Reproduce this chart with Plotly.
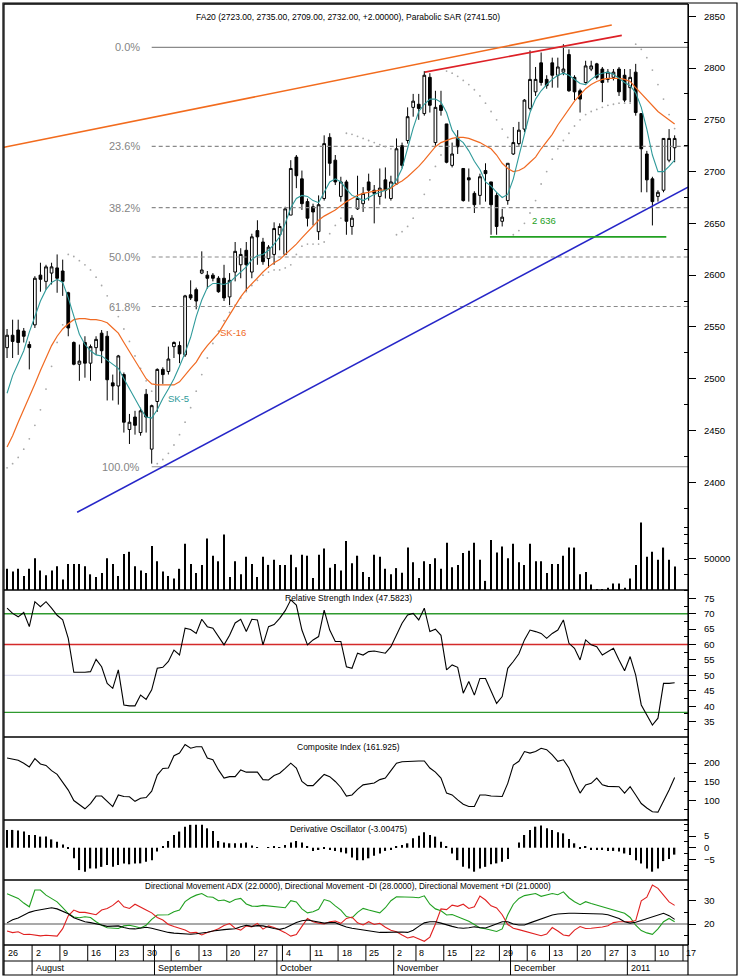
import plotly.graph_objects as go

FONT = "Liberation Sans, Arial, sans-serif"

# ---------------- date axis (trading-day index positions) ----------------
day_ticks = [-0.5, 4.5, 9.5, 14.5, 19.5, 24.5, 29.5, 34.5, 39.5, 44.5, 49.5, 54.5, 59.5,
             64.5, 69.5, 73.5, 78.5, 83.5, 88.5, 93.5, 97.5, 102.5, 107.5, 111.5, 116.5, 121.5]
day_labels = ["26", "2", "9", "16", "23", "30", "6", "13", "20", "27", "4", "11", "18",
              "25", "2", "8", "15", "22", "29", "6", "13", "20", "27", "3", "10", "17"]
month_ticks = [4.5, 26.5, 48.5, 69.5, 90.5, 111.5]
month_labels = ["August", "September", "October", "November", "December", "2011"]

# ---------------- price data ----------------
opens = [2530, 2542, 2547, 2546, 2533, 2552, 2600, 2594, 2602, 2607,
         2604, 2583, 2535, 2514, 2535, 2515, 2530, 2544, 2541, 2496,
         2493, 2504, 2451, 2463, 2448, 2485, 2432, 2478, 2509, 2507,
         2531, 2532, 2523, 2581, 2586, 2602, 2600, 2600, 2597, 2597,
         2579, 2603, 2610, 2624, 2603, 2643, 2632, 2616, 2620, 2639,
         2620, 2658, 2714, 2693, 2671, 2666, 2642, 2674, 2733, 2711,
         2676, 2690, 2647, 2664, 2669, 2690, 2682, 2676, 2692, 2674,
         2688, 2725, 2730, 2762, 2765, 2756, 2791, 2728, 2764, 2746,
         2706, 2732, 2703, 2694, 2679, 2677, 2701, 2690, 2677, 2652,
         2672, 2717, 2727, 2741, 2761, 2777, 2805, 2789, 2805, 2793,
         2796, 2813, 2791, 2778, 2786, 2799, 2804, 2799, 2789, 2791,
         2799, 2793, 2781, 2796, 2756, 2717, 2693, 2676, 2682, 2711,
         2723]
highs = [2548, 2557, 2557, 2549, 2536, 2599, 2612, 2610, 2612, 2620,
         2615, 2584, 2536, 2533, 2541, 2533, 2541, 2547, 2546, 2504,
         2523, 2506, 2466, 2469, 2472, 2490, 2475, 2510, 2511, 2531,
         2536, 2536, 2581, 2595, 2588, 2623, 2604, 2602, 2599, 2610,
         2602, 2632, 2626, 2632, 2640, 2653, 2636, 2629, 2651, 2650,
         2666, 2711, 2716, 2701, 2674, 2669, 2677, 2735, 2737, 2716,
         2695, 2692, 2658, 2696, 2685, 2698, 2687, 2703, 2704, 2696,
         2732, 2728, 2762, 2775, 2775, 2797, 2795, 2778, 2778, 2746,
         2728, 2740, 2703, 2703, 2681, 2698, 2708, 2690, 2680, 2664,
         2708, 2743, 2748, 2770, 2817, 2801, 2815, 2793, 2810, 2810,
         2823, 2818, 2793, 2780, 2807, 2807, 2805, 2801, 2799, 2799,
         2801, 2799, 2799, 2804, 2756, 2720, 2695, 2682, 2732, 2741,
         2735]
lows = [2520, 2520, 2523, 2535, 2509, 2549, 2584, 2586, 2591, 2583,
        2580, 2541, 2513, 2498, 2501, 2498, 2523, 2515, 2479, 2479,
        2475, 2448, 2437, 2446, 2445, 2448, 2418, 2468, 2495, 2504,
        2520, 2515, 2521, 2576, 2567, 2601, 2587, 2594, 2583, 2575,
        2571, 2594, 2597, 2584, 2597, 2610, 2610, 2607, 2610, 2624,
        2620, 2658, 2684, 2663, 2647, 2648, 2634, 2672, 2696, 2687,
        2671, 2639, 2639, 2663, 2661, 2672, 2650, 2668, 2674, 2672,
        2687, 2703, 2727, 2753, 2750, 2754, 2757, 2725, 2754, 2708,
        2704, 2717, 2671, 2671, 2660, 2668, 2671, 2639, 2639, 2647,
        2668, 2716, 2725, 2738, 2759, 2773, 2783, 2780, 2781, 2781,
        2793, 2777, 2769, 2757, 2785, 2797, 2789, 2767, 2786, 2788,
        2773, 2767, 2767, 2754, 2680, 2680, 2648, 2671, 2680, 2709,
        2709]
closes = [2542, 2536, 2535, 2541, 2530, 2597, 2596, 2608, 2608, 2597,
          2594, 2549, 2514, 2517, 2515, 2531, 2538, 2527, 2499, 2493,
          2522, 2458, 2458, 2455, 2469, 2463, 2474, 2509, 2504, 2519,
          2535, 2524, 2580, 2578, 2575, 2605, 2597, 2597, 2584, 2578,
          2595, 2623, 2620, 2610, 2637, 2637, 2613, 2627, 2645, 2647,
          2664, 2703, 2696, 2669, 2655, 2661, 2668, 2727, 2708, 2690,
          2690, 2652, 2655, 2674, 2679, 2682, 2679, 2684, 2682, 2690,
          2722, 2706, 2753, 2768, 2761, 2793, 2764, 2762, 2759, 2709,
          2717, 2724, 2672, 2692, 2668, 2695, 2698, 2668, 2647, 2656,
          2708, 2728, 2740, 2769, 2789, 2789, 2786, 2783, 2793, 2801,
          2799, 2778, 2777, 2770, 2802, 2802, 2791, 2786, 2796, 2796,
          2777, 2769, 2791, 2757, 2722, 2692, 2671, 2680, 2732, 2732,
          2732]
volume = [34200, 30000, 34200, 22600, 34200, 51000, 31600, 23700, 31600, 38400,
          16800, 42100, 42100, 42100, 38400, 25300, 21000, 27400, 51000, 42100,
          22600, 57900, 61600, 38400, 31600, 27400, 71000, 46300, 30000, 22600,
          18400, 34200, 74700, 42100, 27400, 40500, 83200, 55300, 46300, 89500,
          21000, 46300, 25300, 53700, 42100, 21000, 53700, 40500, 48900, 40500,
          40500, 56800, 36800, 56800, 55300, 19500, 56800, 66800, 35800, 42100,
          31600, 78900, 43200, 55300, 28900, 21000, 56800, 53700, 34200, 25300,
          35300, 27900, 68400, 44700, 19500, 46300, 42100, 51000, 34200, 76300,
          36800, 40500, 59500, 63200, 76300, 48900, 14700, 80500, 60500, 70000,
          51000, 74700, 44700, 40500, 74700, 46300, 46300, 27400, 42100, 42100,
          55300, 68400, 68400, 25300, 28900, 8900, 1600, 1600, 3700, 10500,
          10500, 3700, 18400, 40500, 108900, 53700, 61600, 48900, 68400, 48900,
          37900]
sk5 = [2486, 2503, 2515, 2527, 2545, 2560, 2575, 2586, 2593, 2596,
       2593, 2578, 2560, 2543, 2533, 2527, 2523, 2522, 2518, 2514,
       2510, 2500, 2490, 2480, 2471, 2463, 2462, 2470, 2481, 2490,
       2500, 2512, 2525, 2540, 2560, 2576, 2588, 2592, 2592, 2591,
       2593, 2598, 2603, 2608, 2615, 2619, 2620, 2624, 2630, 2637,
       2650, 2665, 2674, 2677, 2676, 2672, 2670, 2680, 2690, 2693,
       2690, 2683, 2677, 2675, 2672, 2675, 2678, 2680, 2682, 2685,
       2692, 2703, 2722, 2742, 2758, 2765, 2770, 2770, 2767, 2757,
       2740, 2732, 2728, 2720, 2710, 2702, 2690, 2686, 2680, 2675,
       2678, 2693, 2715, 2735, 2757, 2770, 2778, 2784, 2789, 2793,
       2795, 2793, 2789, 2785, 2784, 2789, 2793, 2795, 2796, 2794,
       2790, 2786, 2783, 2776, 2762, 2741, 2716, 2700, 2700, 2705,
       2711]
sk16 = [2434, 2445, 2458, 2470, 2483, 2495, 2508, 2520, 2532, 2541,
        2548, 2553, 2557, 2558, 2558, 2557, 2557, 2556, 2554, 2549,
        2544, 2535, 2526, 2517, 2509, 2500, 2495, 2494, 2494, 2494,
        2494, 2497, 2504, 2510, 2516, 2525, 2532, 2538, 2544, 2553,
        2562, 2570, 2579, 2586, 2592, 2597, 2603, 2608, 2612, 2615,
        2620, 2625, 2630, 2636, 2642, 2648, 2653, 2657, 2660, 2663,
        2667, 2671, 2674, 2677, 2679, 2680, 2681, 2682, 2682, 2684,
        2688, 2691, 2695, 2700, 2705, 2711, 2718, 2724, 2728, 2730,
        2732, 2733, 2733, 2732, 2730, 2728, 2725, 2722, 2716, 2708,
        2703, 2700, 2701, 2704, 2709, 2714, 2722, 2729, 2736, 2745,
        2753, 2761, 2768, 2774, 2780, 2784, 2787, 2789, 2790, 2790,
        2790, 2789, 2787, 2781, 2775, 2769, 2763, 2758, 2754, 2750,
        2746]
sar = [2414, 2418, 2424, 2432, 2442, 2455, 2470, 2490, 2512, 2535, 2552,
       2620, 2618, 2614, 2610, 2605, 2598, 2590, 2580, 2570, 2560, 2548, 2536, 2522, 2510, 2498, 2488,
       2418, 2422, 2428, 2436, 2446, 2458, 2472, 2488, 2504, 2520, 2534, 2546, 2556, 2564, 2571,
       2578, 2584, 2590, 2595, 2600, 2603, 2605, 2605, 2607, 2610, 2620,
       2628, 2630, 2630, 2630, 2632, 2640, 2648, 2655,
       2737, 2736, 2734, 2732, 2730, 2728, 2726, 2724, 2722,
       2639, 2642, 2647, 2655, 2665, 2678, 2692, 2705, 2716,
       2797, 2795, 2792, 2788, 2784, 2779, 2773, 2766, 2758, 2750, 2741, 2733,
       2639, 2643, 2650, 2660, 2672, 2688, 2700, 2712, 2722, 2730, 2737, 2744, 2750, 2755, 2758,
       2760, 2762, 2764, 2765, 2766, 2766, 2766,
       2823, 2818, 2810, 2798, 2784, 2770, 2755, 2741.5]

# ---------------- indicators ----------------
rsi = [71.8, 70.1, 69.0, 70.4, 65.8, 73.9, 72.3, 73.9, 71.8, 69.5,
       68.0, 62.0, 51.0, 50.9, 51.0, 51.2, 55.2, 52.8, 47.4, 45.8,
       51.8, 40.4, 40.1, 40.1, 43.6, 42.2, 45.3, 52.3, 52.6, 54.5,
       58.2, 56.6, 65.3, 64.9, 63.6, 68.2, 65.8, 65.3, 62.6, 59.9,
       63.0, 67.0, 68.2, 64.2, 68.2, 68.0, 59.9, 65.8, 66.5, 68.5,
       71.0, 74.5, 72.8, 64.7, 59.9, 61.5, 62.6, 71.2, 64.7, 61.0,
       61.0, 52.8, 52.3, 57.2, 56.6, 57.7, 57.9, 57.5, 57.2, 59.3,
       63.0, 66.9, 69.6, 70.1, 68.0, 71.8, 64.2, 65.0, 63.0, 51.8,
       53.4, 52.6, 44.2, 48.0, 43.6, 49.0, 49.0, 44.7, 40.9, 43.1,
       52.3, 54.5, 57.0, 61.5, 64.7, 64.2, 63.6, 62.0, 63.6, 64.7,
       68.0, 60.4, 58.8, 55.0, 61.5, 59.9, 59.3, 56.6, 57.7, 58.8,
       55.0, 51.5, 56.1, 50.1, 40.4, 37.2, 33.9, 36.1, 47.4, 47.4,
       47.58]
composite = [214, 210, 208, 200, 190, 212, 198, 194, 180, 170,
             150, 128, 100, 88, 78, 92, 112, 112, 97, 84,
             115, 111, 110, 98, 106, 108, 125, 168, 186, 187,
             220, 227, 250, 240, 244, 244, 214, 209, 182, 160,
             164, 164, 182, 176, 176, 176, 156, 155, 167, 173,
             186, 200, 187, 151, 140, 140, 155, 170, 164, 151,
             135, 112, 115, 130, 142, 144, 147, 156, 160, 180,
             200, 204, 205, 206, 206, 206, 187, 176, 160, 120,
             115, 102, 90, 84, 84, 115, 115, 112, 111, 111,
             146, 195, 205, 231, 227, 231, 240, 236, 222, 205,
             209, 187, 151, 120, 142, 146, 160, 142, 138, 137,
             137, 120, 137, 115, 92, 80, 70, 69, 97, 128,
             161.9]
deriv = [7.7, 7.7, 7.4, 7.0, 5.5, 5.5, 4.8, 4.8, 3.6, 2.6,
         1.4, -0.3, -4.6, -9.7, -10.4, -9.0, -9.0, -8.3, -7.5, -8.3,
         -7.5, -6.8, -7.2, -6.8, -6.8, -6.1, -5.4, -1.7, 0.4, 2.9,
         5.5, 7.0, 9.1, 9.9, 9.9, 9.9, 8.4, 7.2, 2.9, 2.3,
         1.9, 1.9, 1.9, 2.3, 0.9, 0.1, 0.0, 0.1, 0.4, 0.1,
         1.2, 2.3, 2.9, 2.3, 0.4, -1.4, -1.0, -0.6, -1.0, -1.4,
         -2.0, -2.5, -4.3, -5.4, -5.4, -4.6, -3.5, -2.5, -1.4, -1.0,
         0.4, 1.2, 1.9, 4.1, 5.2, 6.7, 5.5, 4.8, 2.6, 0.4,
         -2.5, -5.4, -8.3, -9.0, -10.4, -9.0, -8.3, -7.2, -6.8, -6.1,
         -4.9, 0.0, 2.3, 5.5, 7.7, 9.1, 9.6, 8.4, 7.7, 6.7,
         6.2, 3.8, 1.9, -0.3, 0.4, -1.0, -1.0, -1.0, -1.4, -1.4,
         -1.7, -2.5, -3.2, -5.4, -6.8, -9.0, -10.4, -9.0, -5.8, -4.9,
         -3.0]
adx = [20.5, 21.8, 22.6, 23.7, 25.0, 25.7, 26.2, 26.6, 27.0, 26.5,
       25.5, 24.4, 22.7, 21.8, 21.0, 20.6, 20.2, 19.6, 19.0, 19.0,
       19.2, 18.5, 18.0, 17.9, 18.2, 18.6, 18.2, 17.5, 16.8, 16.4,
       16.1, 15.9, 15.8, 15.6, 15.8, 16.0, 16.5, 17.0, 17.4, 17.6,
       17.8, 18.0, 18.8, 19.5, 19.0, 19.3, 19.2, 18.5, 18.1, 17.7,
       18.3, 19.5, 20.7, 21.4, 21.7, 21.3, 20.8, 20.4, 20.6, 20.6,
       19.6, 18.7, 18.2, 17.8, 17.4, 17.0, 16.7, 16.4, 16.4, 16.5,
       16.7, 16.6, 16.4, 17.3, 19.0, 20.5, 21.0, 21.0, 20.4, 19.6,
       19.0, 18.4, 18.2, 18.4, 18.8, 18.5, 18.3, 19.2, 20.0, 21.0,
       21.0, 20.0, 19.6, 19.6, 20.5, 21.3, 22.2, 23.1, 23.9, 24.3,
       24.6, 24.6, 24.6, 24.6, 24.6, 24.6, 24.6, 24.3, 24.0, 23.2,
       22.4, 21.0, 20.4, 20.8, 21.6, 22.4, 23.2, 23.9, 24.6, 23.6,
       22.0]
plus_di = [33.0, 32.0, 31.0, 29.0, 27.4, 34.6, 34.6, 32.4, 31.0, 29.5,
           27.0, 24.5, 23.0, 22.7, 23.1, 22.8, 21.0, 19.5, 18.4, 18.2,
           18.1, 19.2, 19.5, 18.9, 18.3, 19.5, 22.0, 23.9, 24.1, 24.0,
           25.3, 26.0, 29.6, 31.3, 32.4, 33.1, 31.7, 31.5, 30.0, 30.3,
           29.3, 30.5, 31.0, 28.6, 27.7, 27.6, 28.0, 27.7, 27.5, 27.2,
           27.0, 30.0, 29.5, 26.5, 24.8, 25.3, 26.3, 30.5, 29.8, 27.8,
           26.0, 23.2, 22.6, 25.0, 26.7, 26.0, 25.3, 24.8, 27.0, 30.0,
           31.7, 31.7, 31.7, 31.5, 31.3, 32.1, 28.5, 26.5, 25.7, 23.9,
           24.1, 23.1, 22.4, 21.2, 19.8, 18.3, 18.0, 17.3, 16.8, 17.9,
           24.0, 28.5, 31.0, 32.2, 32.7, 33.1, 31.9, 32.4, 33.1, 32.6,
           33.8, 31.3, 29.6, 28.3, 29.6, 28.8, 28.1, 27.3, 26.7, 26.2,
           25.4, 24.6, 22.8, 19.5, 17.2, 16.2, 15.6, 17.9, 21.0, 22.4,
           21.0]
minus_di = [17.0, 16.3, 16.7, 15.5, 15.6, 15.2, 14.9, 15.2, 15.0, 14.8,
            18.0, 23.5, 26.0, 25.0, 25.0, 24.5, 24.0, 26.0, 26.7, 28.0,
            30.0, 27.4, 26.7, 28.5, 27.4, 26.0, 24.8, 22.8, 21.7, 19.8,
            18.9, 18.1, 17.4, 16.2, 16.4, 15.3, 16.4, 17.0, 18.0, 19.4,
            20.2, 18.2, 17.4, 19.2, 18.8, 20.3, 17.8, 19.2, 18.5, 17.4,
            16.3, 14.8, 15.5, 19.0, 22.4, 21.0, 20.3, 20.0, 21.0, 21.3,
            20.3, 22.4, 23.0, 20.5, 19.6, 21.0, 19.8, 20.3, 18.6, 17.3,
            16.7, 15.3, 14.0, 14.6, 13.5, 12.6, 14.4, 20.0, 26.5, 26.2,
            28.1, 27.6, 28.5, 26.7, 27.4, 32.0, 30.3, 27.8, 26.9, 24.0,
            19.8, 18.2, 17.6, 17.0, 16.2, 15.6, 15.0, 15.7, 18.5, 17.0,
            15.3, 14.9, 17.4, 18.9, 18.1, 18.2, 18.4, 18.7, 19.3, 20.6,
            21.0, 21.0, 21.0, 21.5, 30.0, 31.5, 36.7, 35.3, 32.4, 29.5,
            28.0]

# ---------------- drawing-tool values ----------------
fib_high = 2820
fib_low = 2415
fib_start = 26
fib_ratios = [0.0, 0.236, 0.382, 0.5, 0.618, 1.0]
fib_labels = ["0.0%", "23.6%", "38.2%", "50.0%", "61.8%", "100.0%"]
fib_label_x = 24.3

trend_orange_x, trend_orange_y = [-0.55, 108.7], [2723.4, 2841.5]
trend_red_x, trend_red_y = [75.1, 110.5], [2796, 2831.5]
trend_blue_x, trend_blue_y = [12.6, 122.4], [2371, 2685]
support_x, support_y = [86.8, 118.5], [2637, 2637]

rsi_levels = [70, 60, 50, 38]
rsi_level_colors = ["#2f9a2f", "#d42a2a", "#dcdcf0", "#2f9a2f"]
dmi_level = 20

price_ticks = list(range(2400, 2851, 50))
vol_ticks = [50000]
rsi_ticks = list(range(35, 76, 5))
comp_ticks = [100, 150, 200]
deriv_ticks = [-5, 0, 5]
dmi_ticks = [20, 30]

price_title = "FA20 (2723.00, 2735.00, 2709.00, 2732.00, +2.00000), Parabolic SAR (2741.50)"
rsi_title = "Relative Strength Index (47.5823)"
comp_title = "Composite Index (161.925)"
deriv_title = "Derivative Oscillator (-3.00475)"
dmi_title = ("Directional Movement ADX (22.0000), Directional Movement -DI (28.0000), "
             "Directional Movement +DI (21.0000)")

# ---------------- layout geometry ----------------
W, H = 740, 978
ML, MR, MT, MB = 4, 52, 4, 33
PH = H - MT - MB
x_range = [-0.55, 122.4]
dom_price = [355 / PH, 1.0]
dom_rsi = [208 / PH, 355 / PH]
dom_comp = [125 / PH, 208 / PH]
dom_deriv = [65 / PH, 125 / PH]
dom_dmi = [0.0, 65 / PH]
ROW1 = -16 / PH
ROW2 = -30 / PH

idx = list(range(len(closes)))

fig = go.Figure()

# volume (overlay axis in price panel)
fig.add_trace(go.Bar(x=idx, y=volume, yaxis="y6", width=0.2,
                     marker=dict(color="black", line=dict(width=0)), hoverinfo="skip"))

# fibonacci levels
for r, lab in zip(fib_ratios, fib_labels):
    lvl = fib_high - r * (fib_high - fib_low)
    solid = r in (0.0, 1.0)
    fig.add_trace(go.Scatter(x=[fib_start, x_range[1]], y=[lvl, lvl], mode="lines",
                             line=dict(color="#8a8a8a", width=1.2,
                                       dash="solid" if solid else "4px,3px"),
                             yaxis="y", hoverinfo="skip"))

# candles
fig.add_trace(go.Candlestick(x=idx, open=opens, high=highs, low=lows, close=closes,
                             increasing=dict(line=dict(color="black", width=1), fillcolor="white"),
                             decreasing=dict(line=dict(color="black", width=1), fillcolor="black"),
                             whiskerwidth=0, yaxis="y", hoverinfo="skip"))

# parabolic SAR
fig.add_trace(go.Scatter(x=idx, y=sar, mode="markers",
                         marker=dict(color="#a8a8a8", size=1.8), yaxis="y", hoverinfo="skip"))
# moving averages
fig.add_trace(go.Scatter(x=idx, y=sk16, mode="lines", line=dict(color="#f06a22", width=1.2),
                         yaxis="y", hoverinfo="skip"))
fig.add_trace(go.Scatter(x=idx, y=sk5, mode="lines", line=dict(color="#2f9a9a", width=1.1),
                         yaxis="y", hoverinfo="skip"))
# trend lines
for tx, ty, col in [(trend_orange_x, trend_orange_y, "#f26b1d"),
                    (trend_red_x, trend_red_y, "#dd2026"),
                    (trend_blue_x, trend_blue_y, "#2626c8"),
                    (support_x, support_y, "#22a022")]:
    fig.add_trace(go.Scatter(x=tx, y=ty, mode="lines", line=dict(color=col, width=1.6),
                             yaxis="y", hoverinfo="skip"))

# RSI
fig.add_trace(go.Scatter(x=idx, y=rsi, mode="lines", line=dict(color="black", width=1.1),
                         yaxis="y2", hoverinfo="skip"))
# Composite
fig.add_trace(go.Scatter(x=idx, y=composite, mode="lines", line=dict(color="black", width=1.1),
                         yaxis="y3", hoverinfo="skip"))
# Derivative oscillator
fig.add_trace(go.Bar(x=idx, y=deriv, yaxis="y4", width=0.25,
                     marker=dict(color="black", line=dict(width=0)), hoverinfo="skip"))
# DMI
fig.add_trace(go.Scatter(x=idx, y=plus_di, mode="lines", line=dict(color="#20a020", width=1.1),
                         yaxis="y5", hoverinfo="skip"))
fig.add_trace(go.Scatter(x=idx, y=minus_di, mode="lines", line=dict(color="#e02020", width=1.1),
                         yaxis="y5", hoverinfo="skip"))
fig.add_trace(go.Scatter(x=idx, y=adx, mode="lines", line=dict(color="black", width=1.1),
                         yaxis="y5", hoverinfo="skip"))


def mids(ticks, lo, hi):
    step = ticks[1] - ticks[0]
    out = []
    v = ticks[0] - step / 2
    while v > lo:
        v -= step
    v += step
    while v < hi:
        if all(abs(v - t) > 1e-9 for t in ticks):
            out.append(v)
        v += step / 2
    return out


def yax(domain, rng, ticks, minor_vals, overlay=None):
    d = dict(range=rng, side="right", anchor="x", showgrid=False, zeroline=False,
             tickmode="array", tickvals=ticks, tickformat="d",
             ticks="outside", ticklen=7, tickwidth=1, tickcolor="black",
             ticklabelstandoff=6,
             showline=True, linecolor="black", linewidth=1,
             tickfont=dict(family=FONT, size=9.5, color="black"),
             minor=dict(tickmode="array", tickvals=minor_vals, ticks="inside",
                        ticklen=4, tickwidth=1, tickcolor="black"),
             fixedrange=True)
    if overlay:
        d["overlaying"] = overlay
    else:
        d["domain"] = domain
    return d


shapes = []


def pline(x0, y0, x1, y1, w=1.0, color="black", xref="paper", yref="paper", dash=None):
    ln = dict(color=color, width=w)
    if dash:
        ln["dash"] = dash
    shapes.append(dict(type="line", xref=xref, yref=yref, x0=x0, y0=y0, x1=x1, y1=y1,
                       line=ln, layer="above"))


# reference levels
for lvl, col in zip(rsi_levels, rsi_level_colors):
    shapes.append(dict(type="line", xref="paper", yref="y2", x0=0, x1=1, y0=lvl, y1=lvl,
                       line=dict(color=col, width=1.4), layer="below"))
shapes.append(dict(type="line", xref="paper", yref="y5", x0=0, x1=1, y0=dmi_level, y1=dmi_level,
                   line=dict(color="#8c8c8c", width=1.4), layer="below"))

# panel frames
for yb in [1.0, dom_price[0], dom_rsi[0], dom_comp[0], dom_deriv[0], 0.0]:
    pline(0, yb, 1, yb, w=1.5)
pline(0, ROW2, 0, 1, w=1.2)
pline(1, ROW2, 1, 1, w=1.2)
# date rows
pline(0, ROW1, 1, ROW1, w=1)
for t in sorted(set(day_ticks[1:] + month_ticks)):
    pline(t, 0, t, ROW1, xref="x")
for t in month_ticks:
    pline(t, ROW1, t, ROW2, xref="x")
# outer border
ox0 = -1 / (W - ML - MR)
ox1 = (737 - ML) / (W - ML - MR)
shapes.append(dict(type="rect", xref="paper", yref="paper", x0=ox0, x1=ox1, y0=ROW2, y1=1 + 1 / PH,
                   line=dict(color="black", width=1.2), layer="above"))

annotations = []


def ann(text, x, y, xref="paper", yref="paper", size=9, color="black", xanchor="center",
        yanchor="middle", xshift=0):
    annotations.append(dict(text=text, x=x, y=y, xref=xref, yref=yref, showarrow=False,
                            font=dict(family=FONT, size=size, color=color),
                            xanchor=xanchor, yanchor=yanchor, xshift=xshift))


ann(price_title, 0.503, (PH - 13) / PH, size=8.5)
ann(rsi_title, 0.503, dom_rsi[1] - 8 / PH, size=8.5)
ann(comp_title, 0.503, dom_comp[1] - 10 / PH, size=8.5)
ann(deriv_title, 0.503, dom_deriv[1] - 9 / PH, size=8.5)
ann(dmi_title, 0.503, dom_dmi[1] - 6 / PH, size=8.2)

for r, lab in zip(fib_ratios, fib_labels):
    lvl = fib_high - r * (fib_high - fib_low)
    ann(lab, fib_label_x, lvl, xref="x", yref="y", size=11, color="#858585", xanchor="right")

ann("SK-5", 30.8, 2481, xref="x", yref="y", size=9.5, color="#2f9a9a")
ann("SK-16", 40.6, 2545, xref="x", yref="y", size=9.5, color="#f06a22")
ann("2 636", 96.5, 2653, xref="x", yref="y", size=9.5, color="#22a022")

for t, lab in zip(day_ticks, day_labels):
    ann(lab, t, ROW1 / 2, xref="x", size=9, xanchor="left", xshift=1.5)
for t, lab in zip(month_ticks, month_labels):
    ann(lab, t, (ROW1 + ROW2) / 2, xref="x", size=9, xanchor="left", xshift=1.5)

fig.update_layout(
    width=W, height=H,
    margin=dict(l=ML, r=MR, t=MT, b=MB, pad=0),
    paper_bgcolor="white", plot_bgcolor="white",
    showlegend=False, hovermode=False, barmode="overlay",
    font=dict(family=FONT, size=9, color="black"),
    xaxis=dict(range=x_range, visible=False, rangeslider=dict(visible=False), fixedrange=True),
    yaxis=yax(dom_price, [2296, 2861.8], price_ticks, mids(price_ticks, 2296, 2861.8)),
    yaxis6=yax(None, [0, 945000], vol_ticks, [25000, 75000, 100000], overlay="y"),
    yaxis2=yax(dom_rsi, [30, 77.7], rsi_ticks, mids(rsi_ticks, 30, 77.7)),
    yaxis3=yax(dom_comp, [48, 270], comp_ticks, [50, 75, 125, 175, 225, 250]),
    yaxis4=yax(dom_deriv, [-14, 12], deriv_ticks, [-10, -7.5, -2.5, 2.5, 7.5, 10]),
    yaxis5=yax(dom_dmi, [11, 38.9], dmi_ticks, [15, 25, 35]),
    shapes=shapes,
    annotations=annotations,
)

fig.write_html("out.html")
